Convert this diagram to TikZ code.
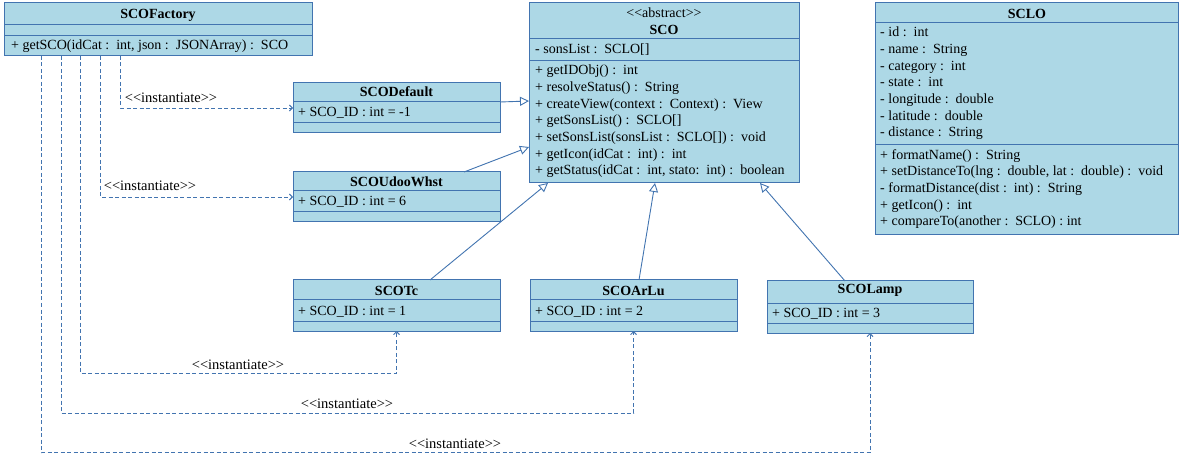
\documentclass[tikz,border=0pt]{standalone}
\usepackage{fontspec}
\setmainfont{Liberation Serif}
\usetikzlibrary{arrows.meta,calc}
\definecolor{umlfill}{RGB}{173,216,230}
\definecolor{umlline}{RGB}{66,116,176}
\begin{document}
\begin{tikzpicture}[x=1pt,y=-1pt,
  font=\fontsize{14}{16.6}\selectfont,
  umlbox/.style={draw=umlline, fill=umlfill, line width=1pt, inner sep=0pt, outer sep=0pt, anchor=north west},
  umlsep/.style={draw=umlline, line width=1pt},
  title/.style={anchor=base, inner sep=0pt, font=\fontsize{14}{16.6}\selectfont\bfseries},
  row/.style={anchor=base west, inner sep=0pt},
  lbl/.style={anchor=base, inner sep=0pt, font=\fontsize{14.5}{16}\selectfont},
  inh/.style={draw=umlline, line width=0.9pt, -{Triangle[open, length=9pt, width=9pt]}},
  dep/.style={draw=umlline, line width=0.9pt, dash pattern=on 4pt off 2.5pt, -{Straight Barb[length=3pt, width=6pt]}}
]
\useasboundingbox (0,0) rectangle (1180,454);

% ---------- boxes ----------
\node[umlbox, minimum width=308pt, minimum height=53pt] (fac) at (4,3) {};
\draw[umlsep] (fac.west |- 0,25) -- (fac.east |- 0,25);
\draw[umlsep] (fac.west |- 0,36) -- (fac.east |- 0,36);

\node[umlbox, minimum width=207pt, minimum height=50pt] (def) at (293,83) {};
\draw[umlsep] (def.west |- 0,102) -- (def.east |- 0,102);
\draw[umlsep] (def.west |- 0,123) -- (def.east |- 0,123);

\node[umlbox, minimum width=207pt, minimum height=50pt] (udo) at (293,172) {};
\draw[umlsep] (udo.west |- 0,191) -- (udo.east |- 0,191);
\draw[umlsep] (udo.west |- 0,212) -- (udo.east |- 0,212);

\node[umlbox, minimum width=270pt, minimum height=180pt] (sco) at (529,3) {};
\draw[umlsep] (sco.west |- 0,39) -- (sco.east |- 0,39);
\draw[umlsep] (sco.west |- 0,61) -- (sco.east |- 0,61);

\node[umlbox, minimum width=303.5pt, minimum height=232pt] (sclo) at (875,3) {};
\draw[umlsep] (sclo.west |- 0,23) -- (sclo.east |- 0,23);
\draw[umlsep] (sclo.west |- 0,145) -- (sclo.east |- 0,145);

\node[umlbox, minimum width=207pt, minimum height=51pt] (tc) at (293,280) {};
\draw[umlsep] (tc.west |- 0,299) -- (tc.east |- 0,299);
\draw[umlsep] (tc.west |- 0,321) -- (tc.east |- 0,321);

\node[umlbox, minimum width=207pt, minimum height=51pt] (arlu) at (530,280) {};
\draw[umlsep] (arlu.west |- 0,299) -- (arlu.east |- 0,299);
\draw[umlsep] (arlu.west |- 0,321) -- (arlu.east |- 0,321);

\node[umlbox, minimum width=206pt, minimum height=52pt] (lamp) at (767,281) {};
\draw[umlsep] (lamp.west |- 0,303) -- (lamp.east |- 0,303);
\draw[umlsep] (lamp.west |- 0,323) -- (lamp.east |- 0,323);

% ---------- texts ----------
\node[title] (fac-t) at (158,18.3) {SCOFactory};
\node[row] (fac-m) at (11,49.5) {+ getSCO(idCat :\, int, json :\, JSONArray) :\, SCO};

\node[title] (def-t) at (396.5,97) {SCODefault};
\node[row] (def-a) at (298,117) {+ SCO\_ID : int = -1};

\node[title] (udo-t) at (396.5,186.5) {SCOUdooWhst};
\node[row] (udo-a) at (298,206) {+ SCO\_ID : int = 6};

\node[anchor=base, inner sep=0pt] (sco-s) at (664,18) {<{}<abstract>{}>};
\node[title] (sco-t) at (664,35) {SCO};
\node[row] (sco-a) at (535,53.5) {- sonsList :\, SCLO[]};
\foreach [count=\i from 0] \t in {
  {+ getIDObj() :\, int},
  {+ resolveStatus() :\, String},
  {+ createView(context :\, Context) :\, View},
  {+ getSonsList() :\, SCLO[]},
  {+ setSonsList(sonsList :\, SCLO[]) :\, void},
  {+ getIcon(idCat :\, int) :\, int},
  {+ getStatus(idCat :\, int, stato:\, int) :\, boolean}}
  \node[row] (sco-m\i) at (535,75+16.65*\i) {\t};

\node[title] (sclo-t) at (1027,18.3) {SCLO};
\foreach [count=\i from 0] \t in {
  {- id :\, int},
  {- name :\, String},
  {- category :\, int},
  {- state :\, int},
  {- longitude :\, double},
  {- latitude :\, double},
  {- distance :\, String}}
  \node[row] (sclo-a\i) at (880,36.7+16.67*\i) {\t};
\foreach [count=\i from 0] \t in {
  {+ formatName() :\, String},
  {+ setDistanceTo(lng :\, double, lat :\, double) :\, void},
  {- formatDistance(dist :\, int) :\, String},
  {+ getIcon() :\, int},
  {+ compareTo(another :\, SCLO) : int}}
  \node[row] (sclo-m\i) at (880,159.3+16.67*\i) {\t};

\node[title] (tc-t) at (396.5,295) {SCOTc};
\node[row] (tc-a) at (298,315) {+ SCO\_ID : int = 1};

\node[title] (arlu-t) at (633.5,295) {SCOArLu};
\node[row] (arlu-a) at (535,315) {+ SCO\_ID : int = 2};

\node[title] (lamp-t) at (870,293.5) {SCOLamp};
\node[row] (lamp-a) at (772,317) {+ SCO\_ID : int = 3};

% ---------- generalisations ----------
\draw[inh] ($(def.north east)+(0,19)$) -- ($(sco.north west)+(0,98)$);
\draw[inh] ($(udo.north west)+(171,0)$) -- ($(sco.north west)+(0,144)$);
\draw[inh] ($(tc.north west)+(137,0)$) -- ($(sco.south west)+(19,0)$);
\draw[inh] ($(arlu.north west)+(109,0)$) -- ($(sco.south west)+(126,0)$);
\draw[inh] ($(lamp.north west)+(78,0)$) -- ($(sco.south west)+(231,0)$);

% ---------- instantiations ----------
\draw[dep] ($(fac.south west)+(116,0)$) |- (def.west);
\draw[dep] ($(fac.south west)+(96,0)$) |- (udo.west);
\draw[dep] ($(fac.south west)+(76,0)$) |- ($(tc.south)+(0,42)$) -- (tc.south);
\draw[dep] ($(fac.south west)+(57,0)$) |- ($(arlu.south)+(0,82)$) -- (arlu.south);
\draw[dep] ($(fac.south west)+(37,0)$) |- ($(lamp.south)+(0,119.5)$) -- (lamp.south);

\node[lbl] (l1) at (171,103) {<{}<instantiate>{}>};
\node[lbl] (l2) at (150,191) {<{}<instantiate>{}>};
\node[lbl] (l3) at (238,369.5) {<{}<instantiate>{}>};
\node[lbl] (l4) at (347,408) {<{}<instantiate>{}>};
\node[lbl] (l5) at (455,448) {<{}<instantiate>{}>};
\end{tikzpicture}
\end{document}
